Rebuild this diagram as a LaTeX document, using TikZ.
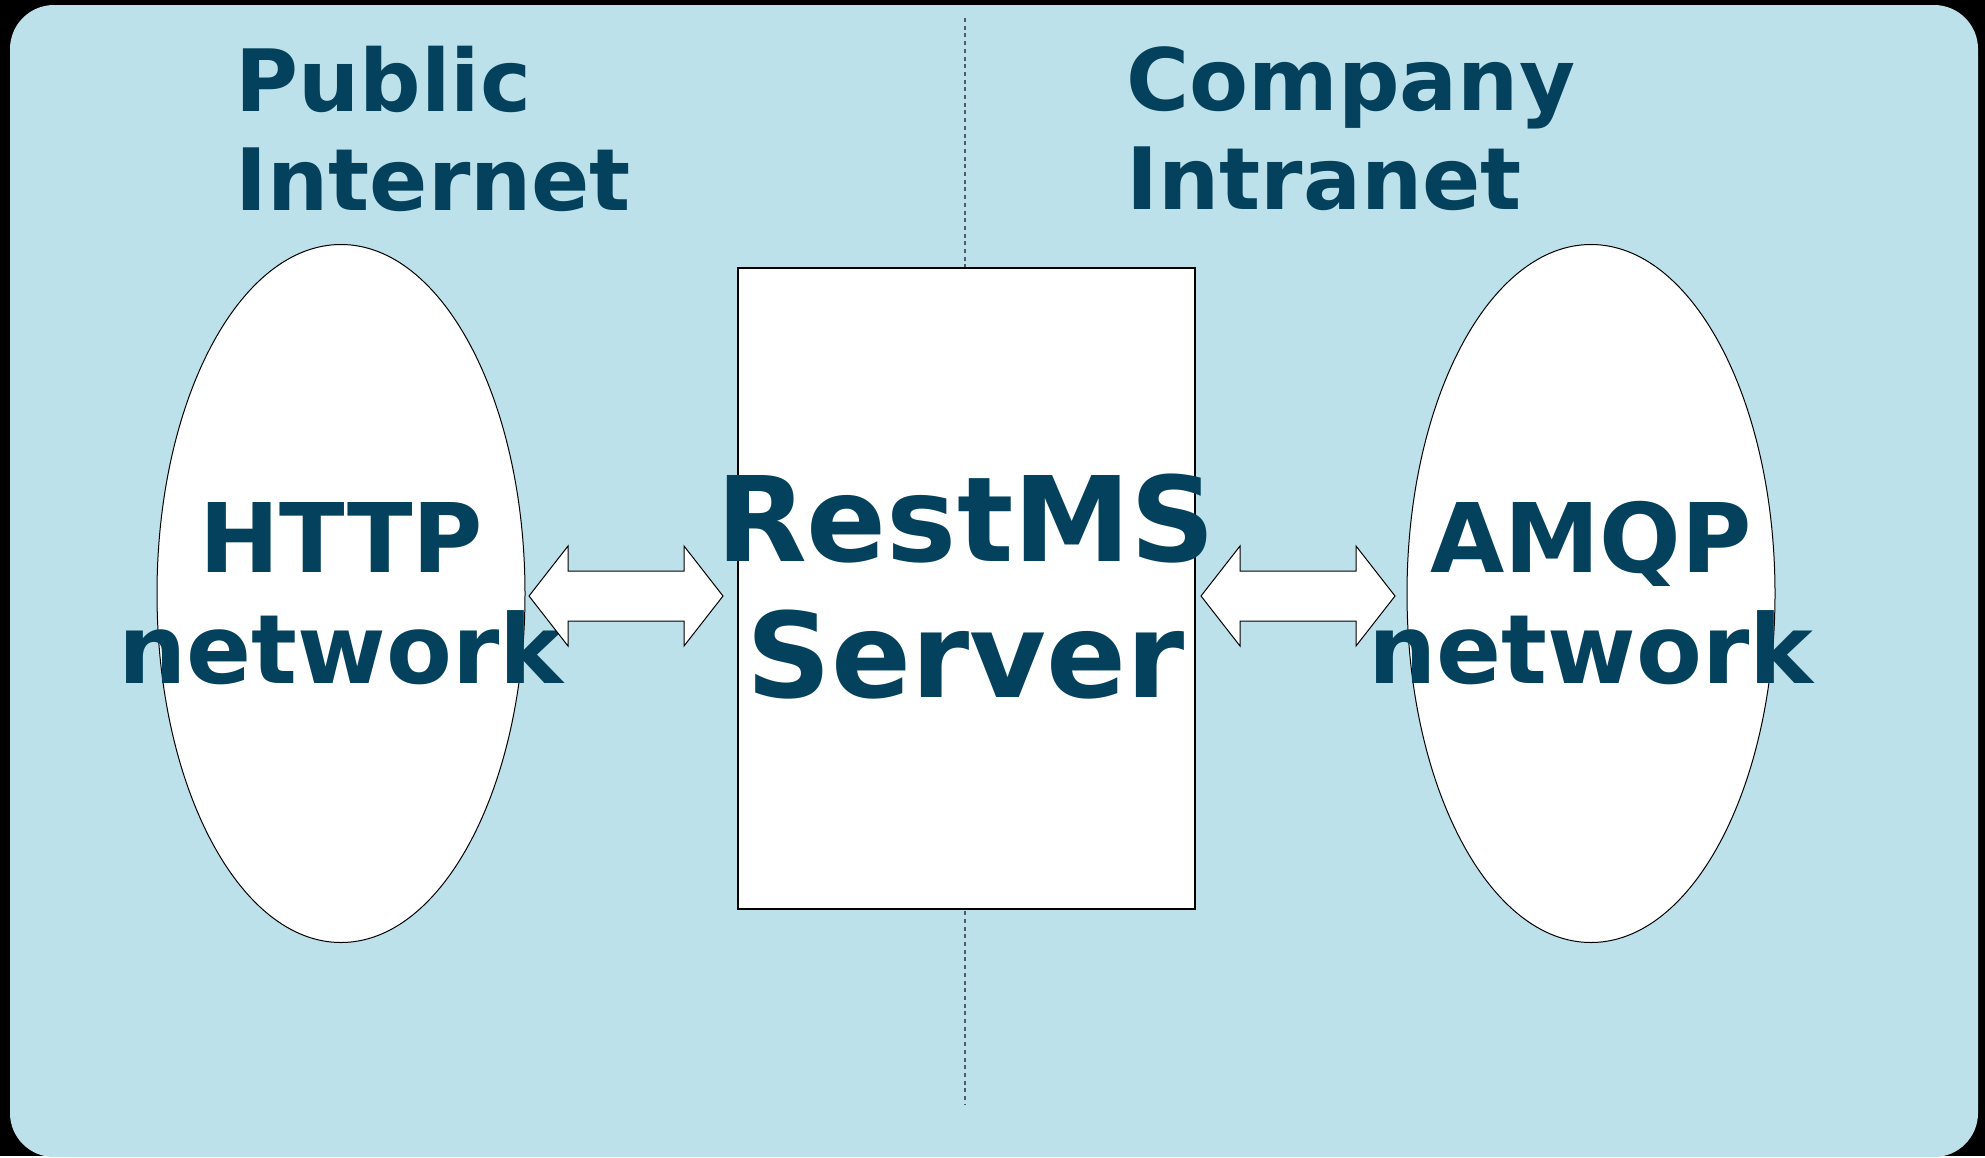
\documentclass[tikz,border=0pt]{standalone}
\usepackage{fontspec}
\setmainfont{DejaVu Sans}
\usetikzlibrary{calc,shapes.geometric}
\definecolor{sky}{HTML}{BDE1EA}
\definecolor{ink}{HTML}{03415C}
\definecolor{rule}{HTML}{505A60}

\begin{document}
\begin{tikzpicture}[x=0.5pt,y=-0.5pt,
    zone/.style={font=\fontsize{43}{49.5}\selectfont\bfseries,text=ink,align=left,inner sep=0pt,anchor=west},
    cloud/.style={ellipse,draw=black,line width=0.5pt,fill=white,minimum width=184pt,minimum height=349pt,inner sep=0pt},
    cloudtext/.style={font=\fontsize{48}{55.5}\selectfont\bfseries,text=ink,align=center,inner sep=0pt},
    serverbox/.style={draw=black,line width=0.6pt,fill=white,minimum width=228.5pt,minimum height=320.5pt,inner sep=0pt},
    servertext/.style={font=\fontsize{59}{68}\selectfont\bfseries,text=ink,align=center,inner sep=0pt},
    divider/.style={rule,line width=0.65pt,dash pattern=on 2pt off 1.85pt},
    flowarrow/.style={draw=black,line width=0.5pt,fill=white,line join=miter}]
  % frame
  \fill[black] (0,0) rectangle (1985,1156);
  \fill[sky,rounded corners=22pt] (10,5) rectangle (1978,1157);
  \useasboundingbox (0,0) rectangle (1985,1156);
  % zone headings
  \node[zone] (public) at (235,129) {Public\\Internet};
  \node[zone] (company) at (1126,129) {Company\\Intranet};
  % dividing line
  \coordinate (divtop) at (965,18);
  \coordinate (divbot) at (965,1104);
  \draw[divider] (divtop) -- (divbot);
  % networks and server
  \node[cloud] (http) at (341,593.5) {};
  \node[cloudtext] (httplab) at (http.center) {HTTP\\network};
  \node[cloud] (amqp) at (1591,593.5) {};
  \node[cloudtext] (amqplab) at (amqp.center) {AMQP\\network};
  \node[serverbox] (server) at (966.5,588.5) {};
  \node[servertext] (serverlab) at (966,587) {RestMS\\Server};
  % links
  \coordinate (httptip) at (529,596);
  \coordinate (amqptip) at (1201,596);
  \foreach \tip in {httptip,amqptip}
    \draw[flowarrow] (\tip) -- ++(39,-50) -- ++(0,25) -- ++(116,0) -- ++(0,-25)
      -- ++(39,50) -- ++(-39,50) -- ++(0,-25) -- ++(-116,0) -- ++(0,25) -- cycle;
\end{tikzpicture}
\end{document}
